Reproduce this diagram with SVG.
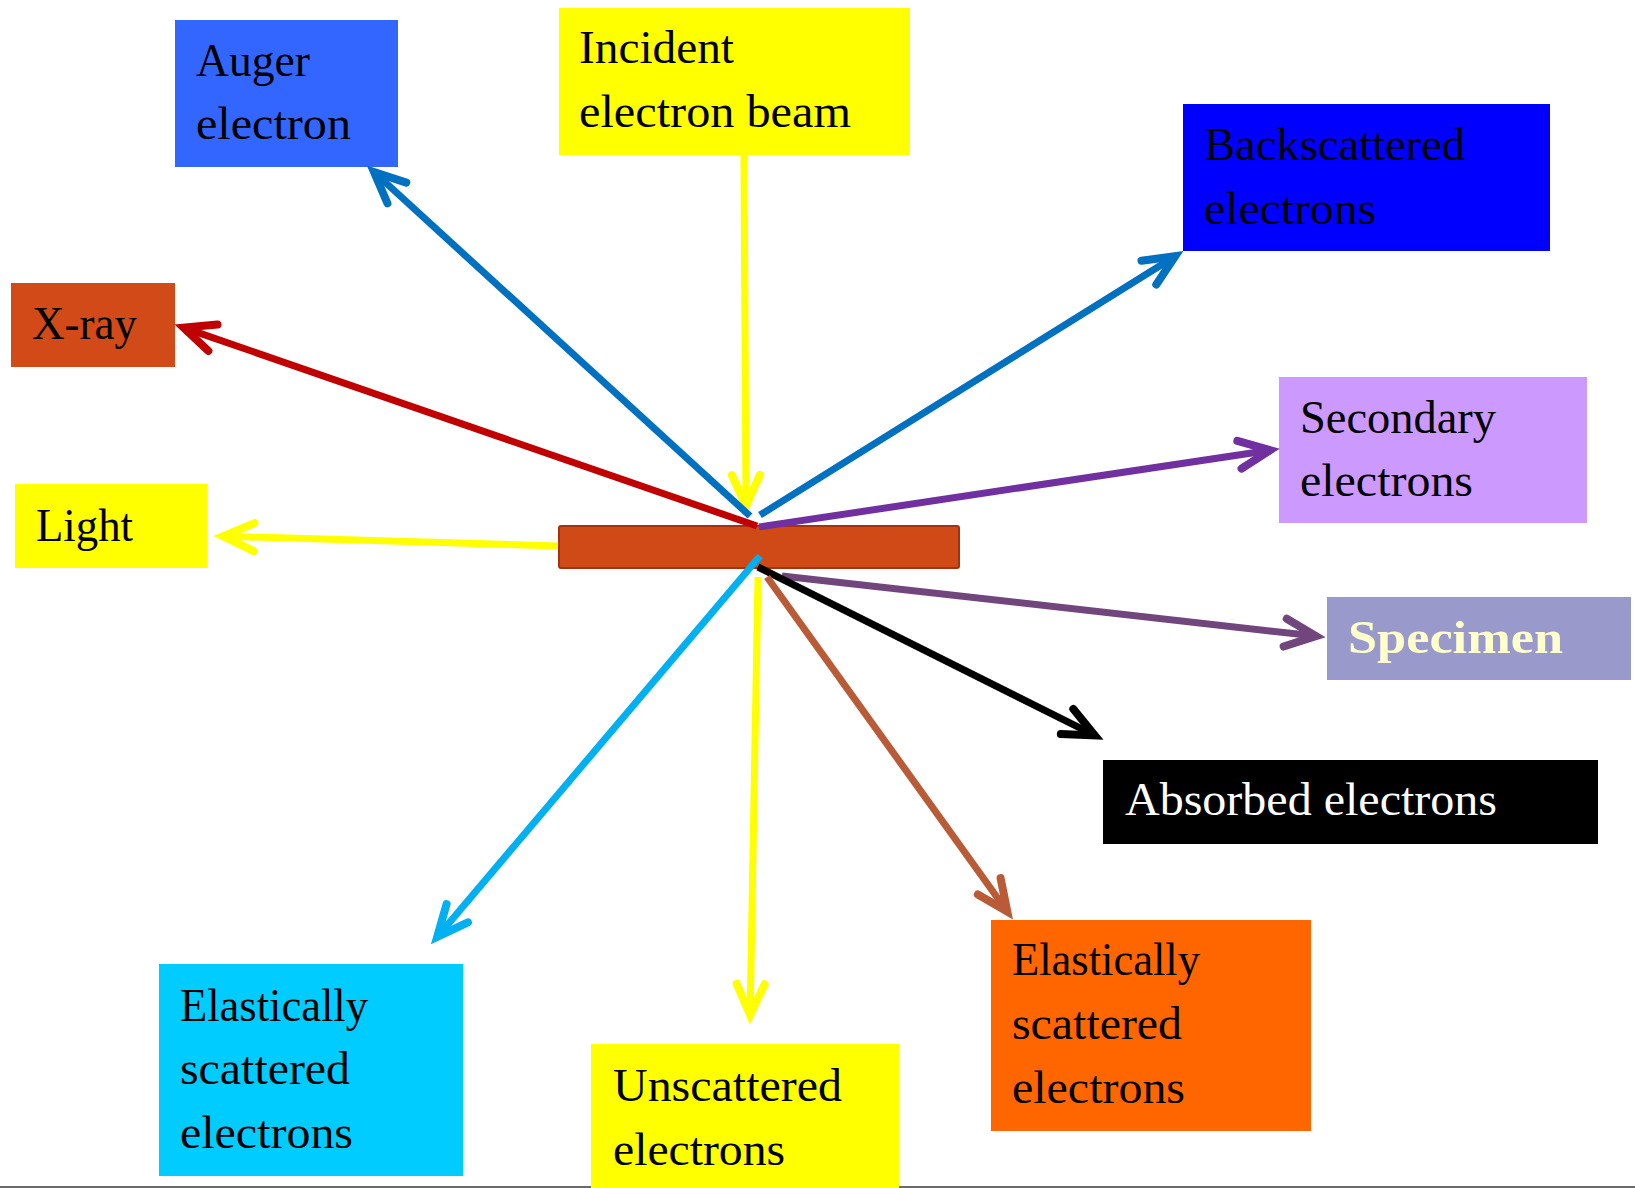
<svg xmlns="http://www.w3.org/2000/svg" width="1635" height="1188" viewBox="0 0 1635 1188">
<style>
.t{font-family:"Liberation Serif","Times New Roman",serif;font-size:46px;fill:#000}
.w{fill:#fff}
.sp{font-weight:bold;fill:#FFFFCC}
.c{fill:none;stroke-width:7;stroke-linecap:butt}
.h{fill:none;stroke-width:8;stroke-linecap:round;stroke-linejoin:miter}
</style>
<defs>
<marker id="mY" markerUnits="userSpaceOnUse" orient="auto" overflow="visible" markerWidth="1" markerHeight="1"><path class="h" stroke="#FFFF00" d="M-31,-14 L0,0 L-31,14"/></marker>
<marker id="mB" markerUnits="userSpaceOnUse" orient="auto" overflow="visible" markerWidth="1" markerHeight="1"><path class="h" stroke="#0070C0" d="M-31,-14 L0,0 L-31,14"/></marker>
<marker id="mR" markerUnits="userSpaceOnUse" orient="auto" overflow="visible" markerWidth="1" markerHeight="1"><path class="h" stroke="#C00000" d="M-31,-14 L0,0 L-31,14"/></marker>
<marker id="mP" markerUnits="userSpaceOnUse" orient="auto" overflow="visible" markerWidth="1" markerHeight="1"><path class="h" stroke="#7030A0" d="M-31,-14 L0,0 L-31,14"/></marker>
<marker id="mS" markerUnits="userSpaceOnUse" orient="auto" overflow="visible" markerWidth="1" markerHeight="1"><path class="h" stroke="#71467C" d="M-31,-14 L0,0 L-31,14"/></marker>
<marker id="mK" markerUnits="userSpaceOnUse" orient="auto" overflow="visible" markerWidth="1" markerHeight="1"><path class="h" stroke="#000000" d="M-31,-14 L0,0 L-31,14"/></marker>
<marker id="mO" markerUnits="userSpaceOnUse" orient="auto" overflow="visible" markerWidth="1" markerHeight="1"><path class="h" stroke="#B95B37" d="M-31,-14 L0,0 L-31,14"/></marker>
<marker id="mC" markerUnits="userSpaceOnUse" orient="auto" overflow="visible" markerWidth="1" markerHeight="1"><path class="h" stroke="#00B0F0" d="M-31,-14 L0,0 L-31,14"/></marker>
</defs>
<rect width="1635" height="1188" fill="#fff"/>
<line x1="0" y1="1187" x2="1635" y2="1187" stroke="#6b6b6b" stroke-width="2"/>

<g id="auger"><rect x="175" y="20" width="223" height="147" fill="#3366FF"/>
<text class="t" x="196" y="76" textLength="114" lengthAdjust="spacingAndGlyphs">Auger</text>
<text class="t" x="196" y="139" textLength="155" lengthAdjust="spacingAndGlyphs">electron</text></g>

<g id="incident"><rect x="559" y="8" width="351" height="147" fill="#FFFF00"/>
<text class="t" x="579" y="63" textLength="155" lengthAdjust="spacingAndGlyphs">Incident</text>
<text class="t" x="579" y="127" textLength="272" lengthAdjust="spacingAndGlyphs">electron beam</text></g>

<g id="backscattered"><rect x="1183" y="104" width="367" height="147" fill="#0000FF"/>
<text class="t" x="1204" y="160" textLength="261" lengthAdjust="spacingAndGlyphs">Backscattered</text>
<text class="t" x="1204" y="224" textLength="172" lengthAdjust="spacingAndGlyphs">electrons</text></g>

<g id="xray"><rect x="11" y="283" width="164" height="84" fill="#D24A18"/>
<text class="t" x="32" y="339" textLength="105" lengthAdjust="spacingAndGlyphs">X-ray</text></g>

<g id="light"><rect x="15" y="484" width="192" height="84" fill="#FFFF00"/>
<text class="t" x="36" y="541" textLength="97" lengthAdjust="spacingAndGlyphs">Light</text></g>

<g id="secondary"><rect x="1279" y="377" width="308" height="146" fill="#CC99FF"/>
<text class="t" x="1300" y="433" textLength="196" lengthAdjust="spacingAndGlyphs">Secondary</text>
<text class="t" x="1300" y="496" textLength="173" lengthAdjust="spacingAndGlyphs">electrons</text></g>

<g id="specimen-label"><rect x="1327" y="597" width="304" height="83" fill="#9999CC"/>
<text class="t sp" x="1348" y="653" textLength="215" lengthAdjust="spacingAndGlyphs">Specimen</text></g>

<g id="absorbed"><rect x="1103" y="760" width="495" height="84" fill="#000"/>
<text class="t w" x="1125" y="815" textLength="372" lengthAdjust="spacingAndGlyphs">Absorbed electrons</text></g>

<g id="elastic-right"><rect x="991" y="920" width="320" height="211" fill="#FF6600"/>
<text class="t" x="1012" y="975" textLength="188" lengthAdjust="spacingAndGlyphs">Elastically</text>
<text class="t" x="1012" y="1039" textLength="170" lengthAdjust="spacingAndGlyphs">scattered</text>
<text class="t" x="1012" y="1103" textLength="173" lengthAdjust="spacingAndGlyphs">electrons</text></g>

<g id="elastic-left"><rect x="159" y="964" width="304" height="212" fill="#00CCFF"/>
<text class="t" x="180" y="1021" textLength="188" lengthAdjust="spacingAndGlyphs">Elastically</text>
<text class="t" x="180" y="1084" textLength="170" lengthAdjust="spacingAndGlyphs">scattered</text>
<text class="t" x="180" y="1148" textLength="173" lengthAdjust="spacingAndGlyphs">electrons</text></g>

<g id="unscattered"><rect x="591" y="1044" width="308" height="144" fill="#FFFF00"/>
<text class="t" x="613" y="1101" textLength="229" lengthAdjust="spacingAndGlyphs">Unscattered</text>
<text class="t" x="613" y="1165" textLength="172" lengthAdjust="spacingAndGlyphs">electrons</text></g>

<g id="specimen-bar"><rect x="559" y="526" width="400" height="42" rx="2" fill="#D04A18" stroke="#A3330F" stroke-width="2"/></g>

<g id="connectors">
<line class="c" stroke="#FFFF00" x1="744" y1="155" x2="746" y2="506" marker-end="url(#mY)"/>
<line class="c" stroke="#0070C0" x1="750" y1="516" x2="374" y2="172" marker-end="url(#mB)"/>
<line class="c" stroke="#C00000" x1="757" y1="526" x2="183.6" y2="327.6" marker-end="url(#mR)"/>
<line class="c" stroke="#0070C0" x1="760" y1="515" x2="1175.2" y2="256.2" marker-end="url(#mB)"/>
<line class="c" stroke="#7030A0" x1="759" y1="527" x2="1270.1" y2="450.2" marker-end="url(#mP)"/>
<line class="c" stroke="#FFFF00" x1="558" y1="546" x2="223" y2="536.2" marker-end="url(#mY)"/>
<line class="c" stroke="#71467C" x1="782" y1="576" x2="1316" y2="636.1" marker-end="url(#mS)"/>
<line class="c" stroke="#000000" x1="758" y1="567" x2="1094.8" y2="735.4" marker-end="url(#mK)"/>
<line class="c" stroke="#B95B37" x1="767" y1="577" x2="1007.3" y2="911.5" marker-end="url(#mO)"/>
<line class="c" stroke="#FFFF00" x1="758" y1="577" x2="750.1" y2="1015" marker-end="url(#mY)"/>
<line class="c" stroke="#00B0F0" x1="760" y1="556" x2="437.2" y2="936.9" marker-end="url(#mC)"/>
</g>
</svg>
